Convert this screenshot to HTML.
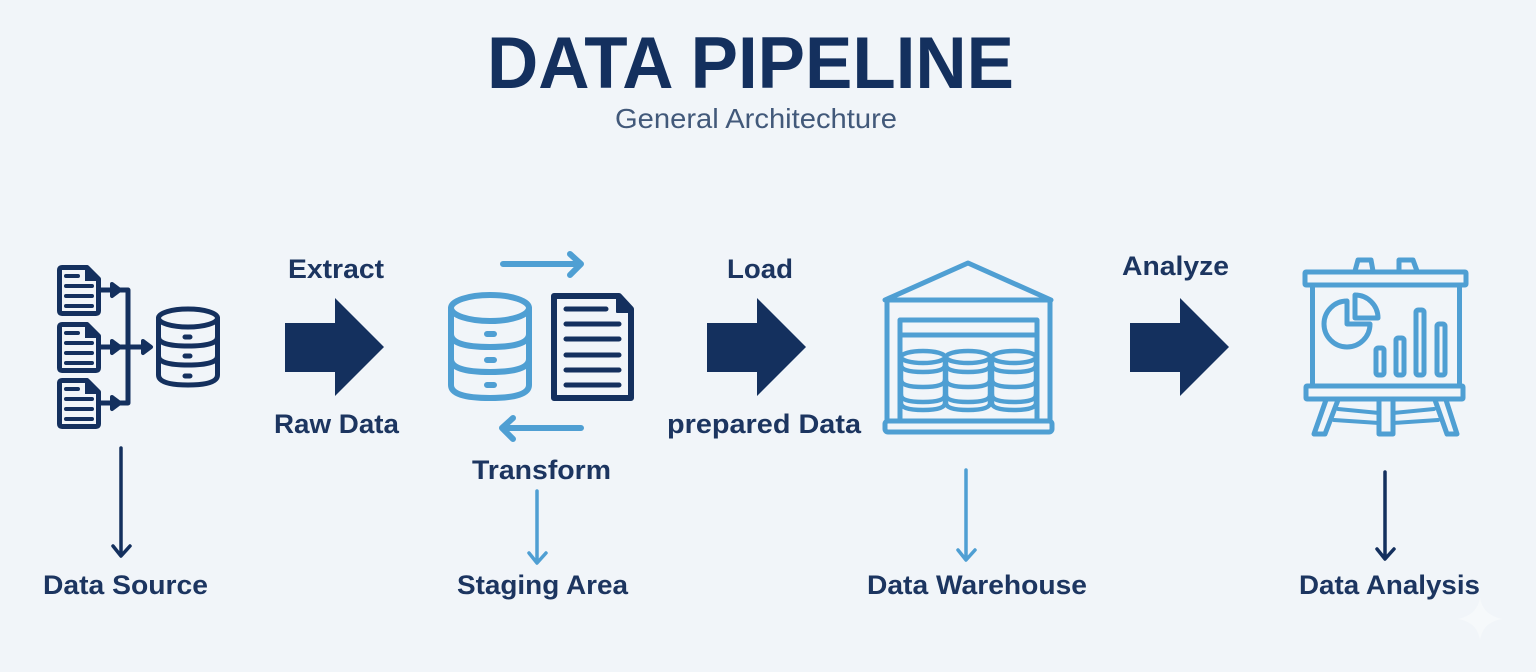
<!DOCTYPE html>
<html lang="en">
<head>
<meta charset="utf-8">
<title>Data Pipeline</title>
<style>
html,body{margin:0;padding:0;width:1536px;height:672px;overflow:hidden;background:#f1f5f9}
svg{display:block}
text{font-family:"Liberation Sans",sans-serif;fill:#1c3560;font-weight:700;font-size:27px}
.d{fill:none;stroke:#14305e;stroke-linecap:round;stroke-linejoin:round}
.l{fill:none;stroke:#4f9fd3;stroke-linecap:round;stroke-linejoin:round}
</style>
</head>
<body>
<svg width="1536" height="672" viewBox="0 0 1536 672" xmlns="http://www.w3.org/2000/svg">
<defs>
<g id="doc">
<path class="d" stroke-width="5" d="M62 268.500H87L98.500 280V312Q98.500 314.500 96 314.500H62Q59.500 314.500 59.500 312V271Q59.500 268.500 62 268.500Z"/>
<path d="M85 268H89L99 278V282H85Z" fill="#14305e"/>
<path class="d" stroke-width="4" d="M66 277H78M66 287H92M66 297H92M66 307H92"/>
</g>
<g id="barrel" class="l" stroke-width="4.500">
<ellipse cx="0" cy="0" rx="22" ry="6"/>
<path d="M-22 0V46Q-22 53 0 53Q22 53 22 46V0"/>
<path d="M-22 8Q-22 15 0 15Q22 15 22 8M-22 23Q-22 30 0 30Q22 30 22 23M-22 38Q-22 45 0 45Q22 45 22 38"/>
</g>
</defs>

<rect width="1536" height="672" fill="#f1f5f9"/>

<text x="487" y="88" style="font-size:73px;fill:#14305e" textLength="527" lengthAdjust="spacingAndGlyphs">DATA PIPELINE</text>
<text x="615" y="128" style="font-size:28px;font-weight:400;fill:#42597a" textLength="282" lengthAdjust="spacingAndGlyphs">General Architechture</text>

<!-- Data source icon -->
<use href="#doc" y="-1"/>
<use href="#doc" y="56"/>
<use href="#doc" y="112"/>
<g class="d" stroke-width="5">
<path d="M101 290H128V403H101M101 347H150"/>
<path d="M112 284L120 290L112 296ZM112 341L120 347L112 353ZM112 397L120 403L112 409ZM143 341L151 347L143 353Z" fill="#14305e" stroke-width="4"/>
<ellipse cx="188" cy="318" rx="29.500" ry="9"/>
<path d="M158.500 318V375Q158.500 385 188 385Q217.500 385 217.500 375V318"/>
<path d="M158.500 337Q158.500 346 188 346Q217.500 346 217.500 337M158.500 356Q158.500 365 188 365Q217.500 365 217.500 356"/>
<path d="M185 337H190M185 356H190M185 376H190" stroke-width="5"/>
</g>

<!-- Big arrows -->
<path d="M285 323H335V298L384 347L335 396V372H285Z" fill="#14305e"/>
<path d="M707 323H757V298L806 347L757 396V372H707Z" fill="#14305e"/>
<path d="M1130 323H1180V298L1229 347L1180 396V372H1130Z" fill="#14305e"/>

<!-- Staging area -->
<g class="l" stroke-width="6">
<path d="M503 264H581M570 254L581 264L570 275"/>
<path d="M581 428H502M513 418L502 428L513 439"/>
<ellipse cx="490" cy="308" rx="39" ry="13"/>
<path d="M451 308V385Q451 398 490 398Q529 398 529 385V308"/>
<path d="M451 334Q451 347 490 347Q529 347 529 334M451 359Q451 372 490 372Q529 372 529 359"/>
<path d="M487 334H494M487 360H494M487 385H494"/>
</g>
<g class="d" stroke-width="6">
<path d="M554 296H619L631 309V398H554Z"/>
<path d="M617 296H621L632 308V312H617Z" fill="#14305e" stroke-width="2"/>
<path d="M566 309H606M566 324H619M566 339H619M566 355H619M566 370H619M566 385H619" stroke-width="5"/>
</g>

<!-- Warehouse -->
<g class="l" stroke-width="5">
<path d="M968 263L1051 300H885Z"/>
<path d="M887 302V420M1050 302V420"/>
<rect x="885" y="421" width="167" height="11" rx="3"/>
<path d="M900 420V320H1037V420M900 335H1037"/>
</g>
<use href="#barrel" x="923" y="357"/>
<use href="#barrel" x="968" y="357"/>
<use href="#barrel" x="1014" y="357"/>

<!-- Analysis board -->
<g class="l" stroke-width="5">
<rect x="1305" y="272" width="161" height="13" rx="1"/>
<path d="M1355 271L1358 260H1371L1373 271M1399 271L1399 260H1413L1417 271"/>
<path d="M1312.500 286V386M1459.500 286V386"/>
<rect x="1306" y="386" width="157" height="13" rx="1"/>
<path d="M1347 301A23 23 0 1 0 1370 324H1347Z"/>
<path d="M1355 295A23 23 0 0 1 1378 318H1355Z"/>
<rect x="1376" y="348" width="8" height="27" rx="2"/>
<rect x="1396" y="338" width="8" height="37" rx="2"/>
<rect x="1416" y="310" width="8" height="65" rx="2"/>
<rect x="1437" y="324" width="8" height="51" rx="2"/>
<path d="M1326 400L1314 434H1325L1338 400"/>
<path d="M1379 400V434H1393V400"/>
<path d="M1435 400L1447 434H1457L1446 400"/>
<path d="M1338 409L1379 413M1393 413L1434 409M1334 420L1379 423M1393 423L1438 420" stroke-width="4"/>
</g>

<!-- Down arrows -->
<g class="d" stroke-width="3.500">
<path d="M121 448V555M113 546L121 556L130 546"/>
<path d="M1385 472V558M1377 549L1385 559L1394 549"/>
</g>
<g class="l" stroke-width="3.500">
<path d="M537 491V562M529 553L537 563L546 553"/>
<path d="M966 470V559M958 550L966 560L975 550"/>
</g>

<!-- Labels -->
<text x="288" y="278" textLength="96" lengthAdjust="spacingAndGlyphs">Extract</text>
<text x="274" y="433" textLength="125" lengthAdjust="spacingAndGlyphs">Raw Data</text>
<text x="472" y="479" textLength="139" lengthAdjust="spacingAndGlyphs">Transform</text>
<text x="727" y="278" textLength="66" lengthAdjust="spacingAndGlyphs">Load</text>
<text x="667" y="433" textLength="194" lengthAdjust="spacingAndGlyphs">prepared Data</text>
<text x="1122" y="275" textLength="107" lengthAdjust="spacingAndGlyphs">Analyze</text>
<text x="43" y="594" textLength="165" lengthAdjust="spacingAndGlyphs">Data Source</text>
<text x="457" y="594" textLength="171" lengthAdjust="spacingAndGlyphs">Staging Area</text>
<text x="867" y="594" textLength="220" lengthAdjust="spacingAndGlyphs">Data Warehouse</text>
<text x="1299" y="594" textLength="181" lengthAdjust="spacingAndGlyphs">Data Analysis</text>

<!-- Faint sparkle -->
<path d="M1480 598Q1483 615 1502 619Q1483 622 1480 640Q1477 622 1458 619Q1477 615 1480 598Z" fill="#f6f9fb"/>
</svg>
</body>
</html>
